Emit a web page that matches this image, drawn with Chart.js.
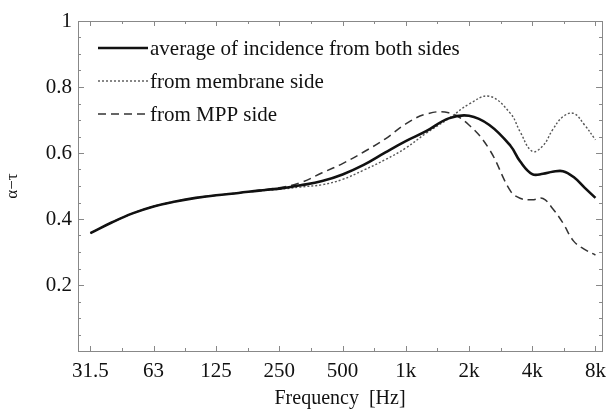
<!DOCTYPE html>
<html>
<head>
<meta charset="utf-8">
<script src="https://cdn.jsdelivr.net/npm/chart.js@4.4.1/dist/chart.umd.min.js"></script>
<style>
  html, body { margin: 0; padding: 0; background: #fff; }
  #wrap { width: 614px; height: 411px; }
</style>
</head>
<body>
<div id="wrap"><canvas id="chart" width="614" height="411"></canvas></div>
<script>
// 1/3 octave band centre frequencies [Hz]
const freqs = [31.5, 40, 50, 63, 80, 100, 125, 160, 200, 250, 315, 400, 500, 630, 800,
  1000, 1250, 1600, 2000, 2500, 3150, 3500, 4000, 4500, 5000, 5600, 6300, 7100, 8000];

const averageBoth = [0.357, 0.390, 0.417, 0.438, 0.453, 0.464, 0.472, 0.479, 0.486, 0.492, 0.502, 0.515, 0.535, 0.564, 0.602,
  0.636, 0.666, 0.705, 0.713, 0.685, 0.622, 0.575, 0.536, 0.537, 0.543, 0.545, 0.527, 0.495, 0.464];
const membraneSide = [0.357, 0.390, 0.417, 0.438, 0.453, 0.464, 0.472, 0.479, 0.485, 0.490, 0.497, 0.504, 0.520, 0.548, 0.580,
  0.615, 0.660, 0.704, 0.748, 0.772, 0.720, 0.665, 0.605, 0.622, 0.670, 0.710, 0.720, 0.685, 0.640];
const mppSide = [0.357, 0.390, 0.417, 0.438, 0.453, 0.464, 0.472, 0.479, 0.487, 0.495, 0.510, 0.540, 0.568, 0.603, 0.643,
  0.688, 0.718, 0.722, 0.685, 0.611, 0.485, 0.463, 0.458, 0.462, 0.432, 0.388, 0.333, 0.308, 0.291];

const xTicks = [31.5, 63, 125, 250, 500, 1000, 2000, 4000, 8000];
const xTickLabels = ['31.5', '63', '125', '250', '500', '1k', '2k', '4k', '8k'];
const seriesLabels = ['average of incidence from both sides', 'from membrane side', 'from MPP side'];

const serif = "'Liberation Serif', 'DejaVu Serif', serif";

function toPoints(ys) {
  return freqs.map((f, i) => ({ x: f, y: ys[i] }));
}

// inward tick marks on all four sides
const innerTicks = {
  id: 'innerTicks',
  afterDraw(chart) {
    const ctx = chart.ctx;
    const a = chart.chartArea;
    const xs = chart.scales.x, ys = chart.scales.y;
    ctx.save();
    ctx.strokeStyle = '#888';
    ctx.lineWidth = 1;
    ctx.beginPath();
    for (let i = 0; i <= 20; i++) {
      const v = i * 0.05;
      const py = Math.round(ys.getPixelForValue(v)) + 0.5;
      const len = (i % 4 === 0) ? 6 : 3;
      ctx.moveTo(a.left, py); ctx.lineTo(a.left + len, py);
      ctx.moveTo(a.right, py); ctx.lineTo(a.right - len, py);
    }
    xTicks.forEach((f, i) => {
      const px = Math.round(xs.getPixelForValue(f)) + 0.5;
      ctx.moveTo(px, a.bottom); ctx.lineTo(px, a.bottom - 5);
      ctx.moveTo(px, a.top); ctx.lineTo(px, a.top + 5);
      if (i < xTicks.length - 1) {
        const mx = Math.round(xs.getPixelForValue(Math.sqrt(f * xTicks[i + 1]))) + 0.5;
        ctx.moveTo(mx, a.bottom); ctx.lineTo(mx, a.bottom - 3);
        ctx.moveTo(mx, a.top); ctx.lineTo(mx, a.top + 3);
      }
    });
    ctx.stroke();
    ctx.restore();
  }
};

// legend drawn inside the plot, top left
const innerLegend = {
  id: 'innerLegend',
  afterDatasetsDraw(chart) {
    const ctx = chart.ctx;
    const a = chart.chartArea;
    ctx.save();
    ctx.font = '21px ' + serif;
    ctx.textBaseline = 'middle';
    ctx.fillStyle = '#111';
    chart.data.datasets.forEach((ds, i) => {
      const y = a.top + 27 + i * 33;
      ctx.strokeStyle = ds.borderColor;
      ctx.lineWidth = ds.borderWidth;
      ctx.setLineDash(ds.borderDash || []);
      ctx.beginPath();
      ctx.moveTo(a.left + 20, y);
      ctx.lineTo(a.left + 70, y);
      ctx.stroke();
      ctx.fillText(ds.label, a.left + 72, y + 1);
    });
    ctx.restore();
  }
};

new Chart(document.getElementById('chart').getContext('2d'), {
  type: 'line',
  data: {
    datasets: [
      { label: seriesLabels[0], data: toPoints(averageBoth), borderColor: '#111', borderWidth: 2.6, borderDash: [] },
      { label: seriesLabels[1], data: toPoints(membraneSide), borderColor: '#555', borderWidth: 1.4, borderDash: [2, 2] },
      { label: seriesLabels[2], data: toPoints(mppSide), borderColor: '#333', borderWidth: 1.5, borderDash: [8, 5] }
    ]
  },
  options: {
    responsive: false,
    animation: false,
    layout: { padding: { top: 21, right: 5, left: 0, bottom: 0 } },
    elements: {
      point: { radius: 0 },
      line: { tension: 0.4, fill: false }
    },
    plugins: {
      legend: { display: false },
      tooltip: { enabled: false }
    },
    scales: {
      x: {
        type: 'logarithmic',
        min: 27.5,
        max: 8600,
        afterBuildTicks: s => { s.ticks = xTicks.map(v => ({ value: v })); },
        afterFit: s => { s.height = 60; },
        grid: { display: false, drawTicks: false },
        border: { display: true, color: '#888', width: 1 },
        ticks: {
          autoSkip: false,
          maxRotation: 0,
          padding: 8,
          color: '#111',
          font: { family: serif, size: 21 },
          callback: v => {
            const i = xTicks.indexOf(v);
            return i >= 0 ? xTickLabels[i] : '';
          }
        },
        title: {
          display: true,
          text: 'Frequency  [Hz]',
          color: '#111',
          font: { family: serif, size: 20 },
          padding: { top: 0, bottom: 0 }
        }
      },
      y: {
        min: 0,
        max: 1,
        afterFit: s => { s.width = 78; },
        grid: { display: false, drawTicks: false },
        border: { display: true, color: '#888', width: 1 },
        ticks: {
          stepSize: 0.2,
          padding: 6,
          color: '#111',
          font: { family: serif, size: 21 },
          callback: v => (v === 0 ? '' : String(Math.round(v * 10) / 10))
        },
        title: {
          display: true,
          text: 'α−τ',
          color: '#111',
          font: { family: serif, size: 17 },
          padding: { top: 2, bottom: 0 }
        }
      }
    }
  },
  plugins: [innerTicks, innerLegend, {
    id: 'frame',
    afterDraw(chart) {
      const a = chart.chartArea, ctx = chart.ctx;
      ctx.save();
      ctx.strokeStyle = '#888';
      ctx.lineWidth = 1;
      ctx.strokeRect(Math.round(a.left) + 0.5, Math.round(a.top) + 0.5,
        Math.round(a.right - a.left), Math.round(a.bottom - a.top));
      ctx.restore();
    }
  }]
});
</script>
</body>
</html>
